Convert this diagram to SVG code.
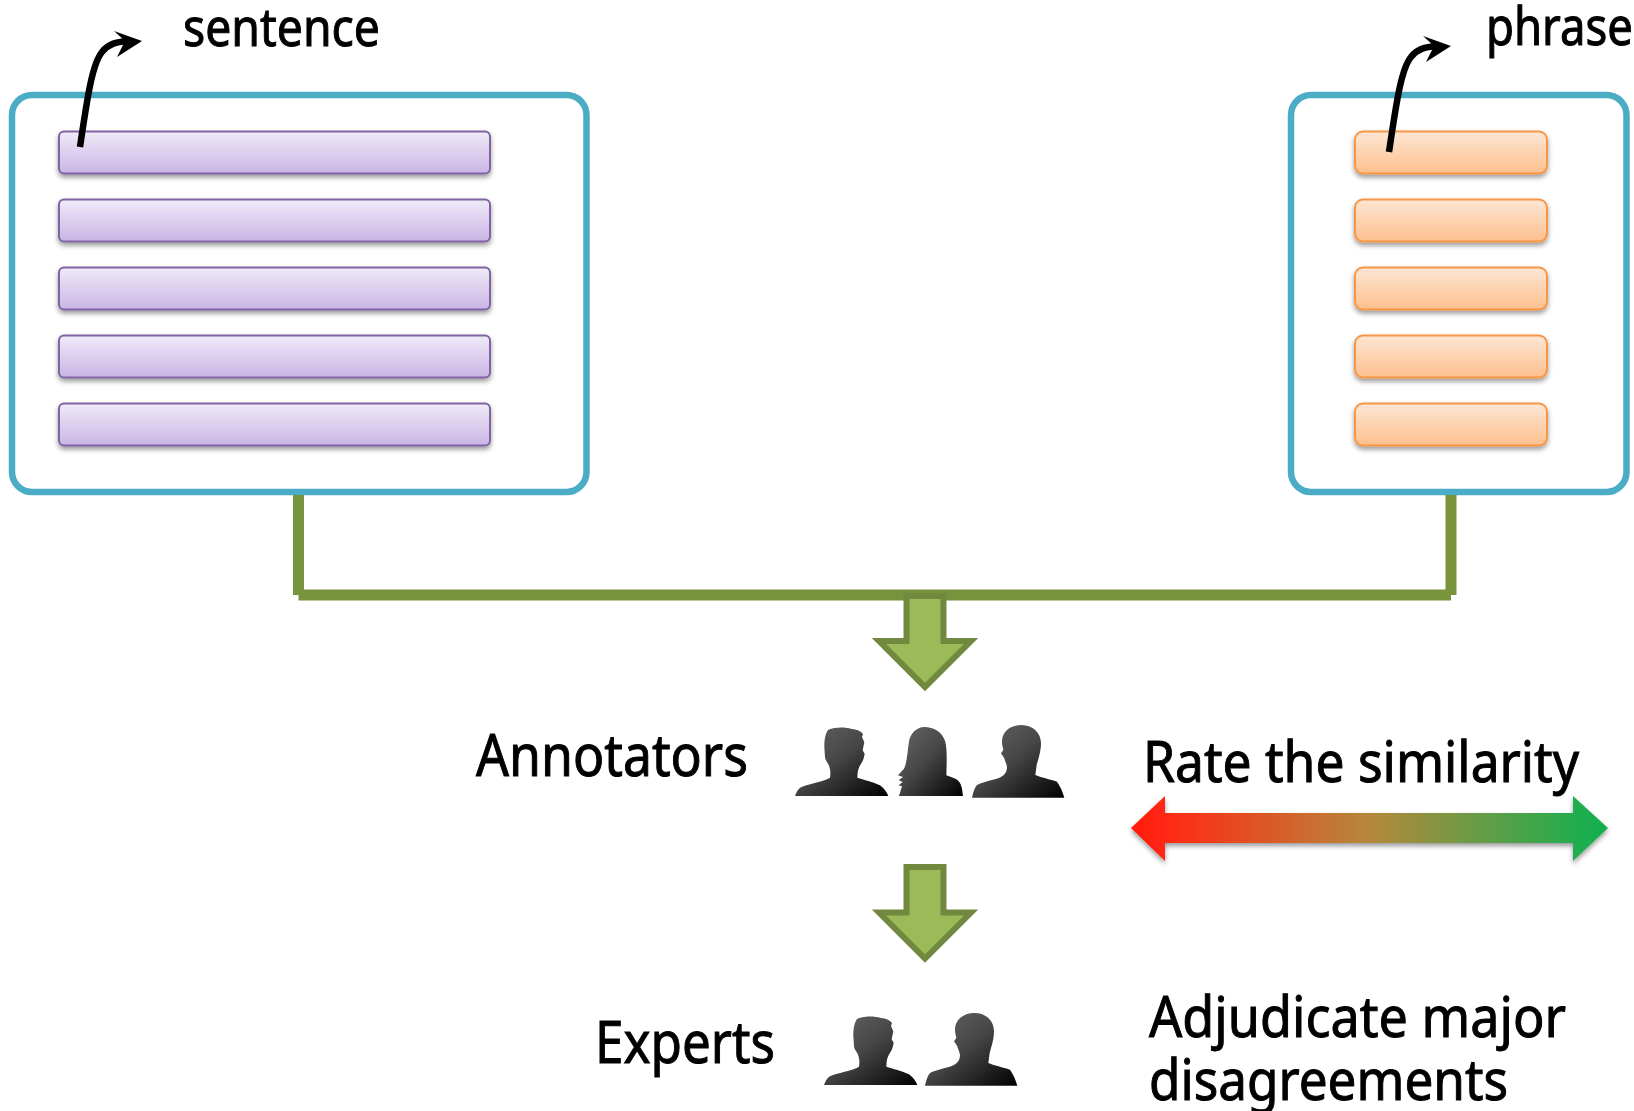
<svg xmlns="http://www.w3.org/2000/svg" width="1634" height="1111" viewBox="0 0 1634 1111">
<style>
text{font-family:"Noto Sans","Open Sans","Liberation Sans",sans-serif;font-size:57px;fill:#000;stroke:#000;stroke-width:1}
.box{fill:#fff;stroke:#4bacc6;stroke-width:6.5}
.p{fill:url(#gp);stroke:#8064a2;stroke-width:2;filter:url(#sh)}
.o{fill:url(#go);stroke:#f79646;stroke-width:2;filter:url(#sh)}
.ln{fill:none;stroke:#77933c;stroke-width:11}
.ar{fill:#9bbb59;stroke:#71893f;stroke-width:6;stroke-linejoin:miter;stroke-miterlimit:10}
.cv{fill:none;stroke:#000;stroke-width:6.5}
</style>
<defs>
<linearGradient id="gp" x1="0" y1="0" x2="0" y2="1"><stop offset="0" stop-color="#f0eaf8"/><stop offset="1" stop-color="#c9b5e5"/></linearGradient>
<linearGradient id="go" x1="0" y1="0" x2="0" y2="1"><stop offset="0" stop-color="#fde6d4"/><stop offset="1" stop-color="#fdc08e"/></linearGradient>
<linearGradient id="gb" x1="0" y1="0" x2="1" y2="0"><stop offset="0" stop-color="#ff1a0e"/><stop offset=".08" stop-color="#ff2a14"/><stop offset=".5" stop-color="#b5883c"/><stop offset=".95" stop-color="#1dae4f"/><stop offset="1" stop-color="#12ae4e"/></linearGradient>
<linearGradient id="gm" x1="0" y1="0" x2="1" y2="1"><stop offset="0" stop-color="#666"/><stop offset=".45" stop-color="#474747"/><stop offset="1" stop-color="#000"/></linearGradient>
<filter id="sh" x="-5%" y="-20%" width="110%" height="150%"><feDropShadow dx="0" dy="3" stdDeviation="2.5" flood-color="#000" flood-opacity=".4"/></filter>
<path id="man" fill="url(#gm)" d="M100 8C120 0 150 -1 170 6C190 8 200 14 204 22L201 30L208 46L203 70L209 80C207 92 204 102 198 110C190 122 187 135 187 152C205 158 235 165 255 175C268 185 276 196 280 207L0 207C4 196 8 188 15 182C40 170 85 165 105 152C108 135 105 122 100 112C96 104 90 98 90 90L88 60C88 40 90 20 100 8Z"/>
<path id="man2" fill="url(#gm)" d="M90 50C90 20 115 0 148 0C185 0 207 25 207 55C207 80 198 105 194 120L190 150C205 157 235 163 255 170C265 185 272 200 277 218L0 218C4 200 8 188 15 180C40 168 70 165 85 157C100 148 105 140 105 125C102 112 98 105 96 98L87 85L94 75C92 65 90 58 90 50Z"/>
<path id="wom" fill="url(#gm)" d="M80 0C55 0 35 20 32 50C28 80 26 110 18 125L0 145L15 150L2 160L14 165L2 175L12 178L3 207L195 207L192 185C188 165 180 158 165 152L145 145C146 110 148 70 142 45C135 15 105 0 80 0Z"/>
</defs>

<g id="sentence-box">
<rect class="box" x="12" y="95" width="574.500" height="397" rx="20"/>
<rect class="p" x="59" y="131.500" width="431" height="42" rx="5"/>
<rect class="p" x="59" y="199.500" width="431" height="42" rx="5"/>
<rect class="p" x="59" y="267.500" width="431" height="42" rx="5"/>
<rect class="p" x="59" y="335.500" width="431" height="42" rx="5"/>
<rect class="p" x="59" y="403.500" width="431" height="42" rx="5"/>
</g>
<g id="phrase-box">
<rect class="box" x="1291" y="95" width="335.500" height="397" rx="20"/>
<rect class="o" x="1355" y="131.500" width="192" height="42" rx="8"/>
<rect class="o" x="1355" y="199.500" width="192" height="42" rx="8"/>
<rect class="o" x="1355" y="267.500" width="192" height="42" rx="8"/>
<rect class="o" x="1355" y="335.500" width="192" height="42" rx="8"/>
<rect class="o" x="1355" y="403.500" width="192" height="42" rx="8"/>
</g>

<g id="connectors">
<path class="ln" d="M298.500 495V595"/>
<path class="ln" d="M1451 495V595"/>
<path class="ln" d="M298.500 595H1451"/>
<g id="curve-sentence">
<path class="cv" d="M80 147C87 100 92 64 102 52C108 44 116 42 128 41"/>
<path d="M142 41L114 31L125 41L117 57Z"/>
</g>
<g id="curve-phrase">
<path class="cv" d="M1389 152C1396 105 1401 69 1411 57C1417 49 1425 47 1437 46"/>
<path d="M1451 46L1423 36L1434 46L1426 62Z"/>
</g>
</g>

<g id="arrow-down-1"><path class="ar" d="M906.500 596H943.500V641H971L925 687L879 641H906.500Z"/></g>
<g id="arrow-down-2"><path class="ar" d="M906.500 867H943.500V912.500H971L925 958.500L879 912.500H906.500Z"/></g>

<g id="rate-arrow"><path d="M1131 828L1165 796V813H1573V796L1608 828L1573 861V843H1165V861Z" fill="url(#gb)" filter="url(#sh)"/></g>

<g id="annotators">
<use href="#man" transform="translate(795 727) scale(.3333)"/>
<use href="#wom" transform="translate(898 727) scale(.3333)"/>
<use href="#man2" transform="translate(972 725) scale(.3333)"/>
</g>
<g id="experts">
<use href="#man" transform="translate(824 1016) scale(.3333)"/>
<use href="#man2" transform="translate(925 1013) scale(.3333)"/>
</g>

<g id="labels">
<text x="183" y="46" textLength="197" lengthAdjust="spacingAndGlyphs" style="font-size:52px">sentence</text>
<text x="1486" y="45" textLength="147" lengthAdjust="spacingAndGlyphs" style="font-size:52px">phrase</text>
<text x="476" y="776" textLength="272" lengthAdjust="spacingAndGlyphs" style="font-size:59px">Annotators</text>
<text x="595" y="1063" textLength="180" lengthAdjust="spacingAndGlyphs" style="font-size:59px">Experts</text>
<text x="1143" y="782" textLength="436" lengthAdjust="spacingAndGlyphs">Rate the similarity</text>
<text x="1149" y="1037" textLength="417" lengthAdjust="spacingAndGlyphs">Adjudicate major</text>
<text x="1149" y="1100" textLength="359" lengthAdjust="spacingAndGlyphs">disagreements</text>
</g>
</svg>
